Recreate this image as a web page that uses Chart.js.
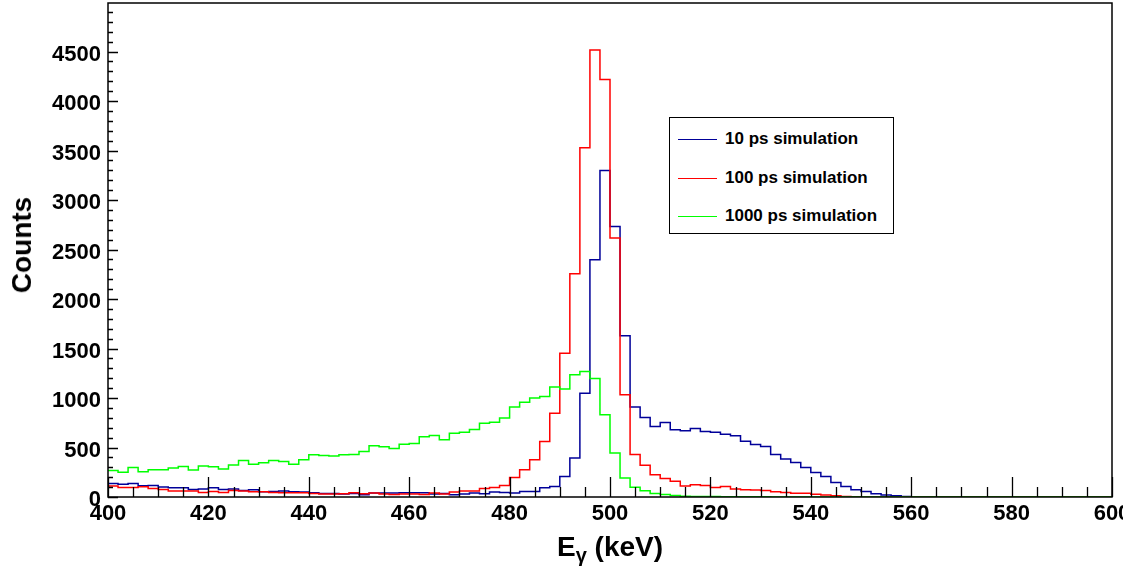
<!DOCTYPE html>
<html>
<head>
<meta charset="utf-8">
<title>Energy spectra</title>
<script src="https://cdn.jsdelivr.net/npm/chart.js@4.4.0/dist/chart.umd.min.js"></script>
<style>
  body { margin: 0; background: #fff; }
  #wrap { position: relative; width: 1123px; height: 566px; overflow: hidden;
          font-family: "Liberation Sans", Arial, Helvetica, sans-serif; font-weight: bold; color: #000; }
  #chart { position: absolute; left: 0; top: 0; }
  .title { position: absolute; font-size: 28px; line-height: 1; white-space: nowrap; }
  #xtitle { left: 610px; top: 533px; transform: translateX(-50%); }
  #xtitle sub { font-size: 20px; vertical-align: -6px; line-height: 0; }
  #ytitle { left: 22px; top: 245px; transform: translate(-50%, -50%) rotate(-90deg); }
  #legend { position: absolute; left: 669px; top: 117px; width: 225px; height: 117px;
            box-sizing: border-box; border: 1.5px solid #000; background: #fff; }
  .row { position: absolute; left: 8px; height: 20px; font-size: 17px; line-height: 20px; white-space: nowrap; }
  .row i { display: inline-block; width: 39px; height: 0; border-top: 1.5px solid; vertical-align: middle; margin-right: 8px; }
</style>
</head>
<body>
<div id="wrap">
  <canvas id="chart" width="1123" height="566"></canvas>
  <div class="title" id="ytitle">Counts</div>
  <div class="title" id="xtitle">E<sub>γ</sub> (keV)</div>
  <div id="legend"></div>
</div>
<script>
// 2 keV bins from 400 to 600 keV, values are counts per bin
const binStart = 400;
const binWidth = 2;

const counts10ps = [
  137, 130, 137, 113, 116, 100, 93, 93, 76, 80,
  93, 76, 80, 66, 73, 53, 56, 60, 53, 50,
  43, 36, 36, 30, 36, 23, 40, 40, 40, 43,
  43, 43, 30, 36, 23, 30, 40, 33, 50, 45,
  40, 56, 56, 93, 106, 207, 393, 1049, 2396, 3298,
  2732, 1628, 908, 803, 712, 753, 679, 669, 692, 662,
  655, 635, 618, 564, 530, 510, 429, 383, 348, 298,
  247, 207, 146, 106, 73, 56, 32, 19, 12, 5,
  0, 0, 0, 0, 0, 0, 0, 0, 0, 0,
  0, 0, 0, 0, 0, 0, 0, 0, 0, 0
];

const counts100ps = [
  110, 96, 96, 103, 86, 76, 60, 60, 60, 46,
  56, 46, 66, 60, 53, 53, 46, 43, 43, 43,
  36, 30, 30, 33, 43, 33, 40, 30, 26, 30,
  30, 26, 40, 30, 50, 60, 60, 86, 96, 116,
  197, 275, 376, 561, 847, 1453, 2255, 3527, 4515, 4218,
  2615, 1032, 430, 320, 224, 188, 160, 110, 123, 116,
  96, 106, 80, 73, 70, 66, 53, 46, 39, 39,
  29, 19, 12, 5, 3, 0, 0, 0, 0, 0,
  0, 0, 0, 0, 0, 0, 0, 0, 0, 0,
  0, 0, 0, 0, 0, 0, 0, 0, 0, 0
];

const counts1000ps = [
  268, 251, 298, 255, 275, 275, 292, 308, 272, 312,
  305, 282, 322, 369, 332, 345, 369, 359, 332, 376,
  426, 419, 413, 426, 429, 460, 517, 507, 490, 534,
  540, 608, 621, 578, 645, 655, 682, 746, 756, 797,
  908, 958, 999, 1015, 1110, 1090, 1234, 1268, 1197, 830,
  445, 191, 98, 63, 35, 26, 15, 8, 6, 5,
  4, 3, 3, 2, 2, 2, 1, 1, 1, 1,
  0, 0, 0, 0, 0, 0, 0, 0, 0, 0,
  0, 0, 0, 0, 0, 0, 0, 0, 0, 0,
  0, 0, 0, 0, 0, 0, 0, 0, 0, 0
];

const seriesNames = ["10 ps simulation", "100 ps simulation", "1000 ps simulation"];
const seriesColors = ["#000099", "#ff0000", "#00ff00"];
const xTicks = [400, 420, 440, 460, 480, 500, 520, 540, 560, 580, 600];
const yTicks = [0, 500, 1000, 1500, 2000, 2500, 3000, 3500, 4000, 4500];

// each bin becomes a point at its lower edge, plus one closing point at the top edge
function histPoints(values) {
  const pts = values.map((v, i) => ({ x: binStart + i * binWidth, y: v }));
  pts.push({ x: binStart + values.length * binWidth, y: values[values.length - 1] });
  return pts;
}

// ROOT-like frame: ticks pointing into the plot, labels drawn by hand
// so that the last x label can run off the canvas edge
const frame = {
  id: "frame",
  afterDatasetsDraw(chart) {
    const { ctx, chartArea: a, scales: { x, y } } = chart;
    ctx.save();
    ctx.strokeStyle = "#000";
    ctx.lineWidth = 1.3;
    ctx.beginPath();
    for (let e = xTicks[0]; e <= xTicks[xTicks.length - 1]; e += 5) {
      const px = Math.round(x.getPixelForValue(e)) + 0.5;
      const len = e % 20 === 0 ? 20 : 10;
      ctx.moveTo(px, a.bottom);
      ctx.lineTo(px, a.bottom - len);
    }
    for (let c = 0; c < y.max; c += 100) {
      const py = Math.round(y.getPixelForValue(c)) + 0.5;
      const len = c % 500 === 0 ? 10 : 5;
      ctx.moveTo(a.left, py);
      ctx.lineTo(a.left + len, py);
    }
    ctx.stroke();
    ctx.lineWidth = 1.5;
    ctx.strokeRect(a.left, a.top, a.right - a.left, a.bottom - a.top);

    ctx.fillStyle = "#000";
    ctx.font = "bold 22px 'Liberation Sans', Arial, sans-serif";
    ctx.textBaseline = "alphabetic";
    ctx.textAlign = "center";
    xTicks.forEach(v => ctx.fillText(String(v), x.getPixelForValue(v), a.bottom + 23));
    ctx.textAlign = "right";
    yTicks.forEach(v => ctx.fillText(String(v), a.left - 7, y.getPixelForValue(v) + 9));
    ctx.restore();
  }
};

const ctx = document.getElementById("chart");

new Chart(ctx, {
  type: "line",
  data: {
    datasets: [counts10ps, counts100ps, counts1000ps].map((vals, i) => ({
      label: seriesNames[i],
      data: histPoints(vals),
      borderColor: seriesColors[i],
      borderWidth: 1.5,
      stepped: true,
      fill: false,
      pointRadius: 0,
      order: 3 - i
    }))
  },
  options: {
    responsive: false,
    animation: false,
    layout: { autoPadding: false, padding: { top: 3, right: 11, bottom: 0, left: 0 } },
    plugins: { legend: { display: false }, tooltip: { enabled: false } },
    scales: {
      x: {
        type: "linear",
        min: xTicks[0],
        max: xTicks[xTicks.length - 1],
        afterFit: s => { s.height = 69; },
        grid: { display: false },
        border: { display: false },
        ticks: { display: false }
      },
      y: {
        min: 0,
        max: 4990,
        afterFit: s => { s.width = 108; },
        grid: { display: false },
        border: { display: false },
        ticks: { display: false }
      }
    }
  },
  plugins: [frame]
});

// legend box
const legend = document.getElementById("legend");
seriesNames.forEach((name, i) => {
  const row = document.createElement("div");
  row.className = "row";
  row.style.top = (11 + i * 38.5) + "px";
  row.innerHTML = '<i style="color:' + seriesColors[i] + '"></i>' + name;
  legend.appendChild(row);
});
</script>
</body>
</html>
